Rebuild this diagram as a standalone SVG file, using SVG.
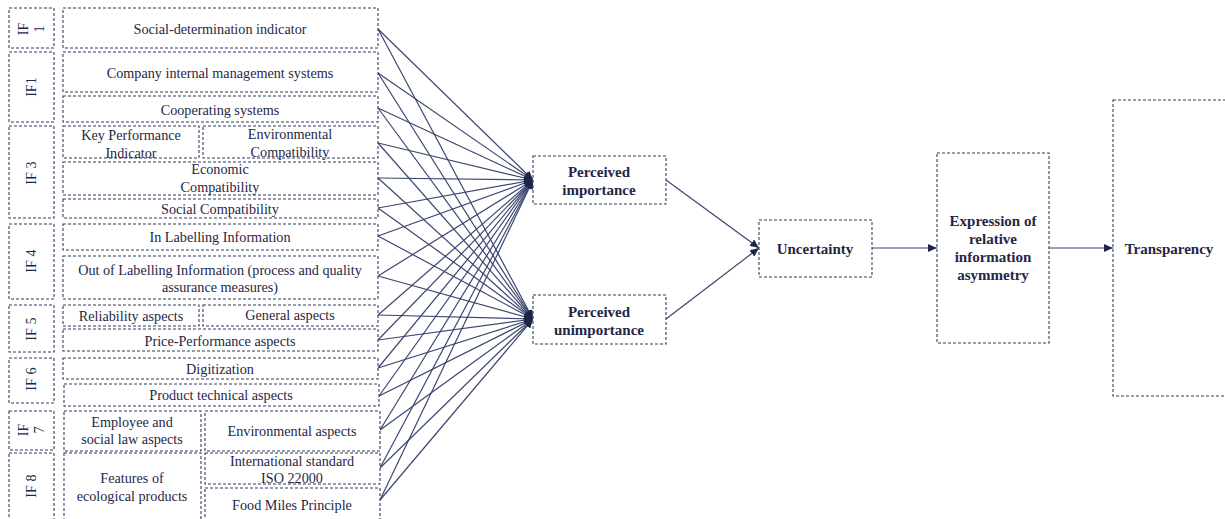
<svg xmlns="http://www.w3.org/2000/svg" width="1225" height="519" viewBox="0 0 1225 519">
<style>
.b{fill:#fff;stroke:#333c5e;stroke-width:1.1;stroke-dasharray:3 2}
.t{font-family:"Liberation Serif","Times New Roman",serif;font-size:14.2px;fill:#1f2747;text-anchor:middle}
.tb{font-family:"Liberation Serif","Times New Roman",serif;font-size:15px;font-weight:bold;fill:#1f2747;text-anchor:middle}
.c{stroke:#3c4670;stroke-width:1.2;fill:none}
</style>
<defs>
<marker id="ah" markerUnits="userSpaceOnUse" markerWidth="9" markerHeight="8" refX="9" refY="4" orient="auto">
<path d="M0,0 L9,4 L0,8 z" fill="#1f2747"/>
</marker>
</defs>
<g id="connectors">
<g class="c" marker-end="url(#ah)">
<line x1="378" y1="29" x2="533" y2="180"/><line x1="378" y1="29" x2="533" y2="319"/>
<line x1="378" y1="73" x2="533" y2="180"/><line x1="378" y1="73" x2="533" y2="319"/>
<line x1="378" y1="108" x2="533" y2="180"/><line x1="378" y1="108" x2="533" y2="319"/>
<line x1="378" y1="143" x2="533" y2="180"/><line x1="378" y1="143" x2="533" y2="319"/>
<line x1="378" y1="178" x2="533" y2="180"/><line x1="378" y1="178" x2="533" y2="319"/>
<line x1="378" y1="208" x2="533" y2="180"/><line x1="378" y1="208" x2="533" y2="319"/>
<line x1="378" y1="236" x2="533" y2="180"/><line x1="378" y1="236" x2="533" y2="319"/>
<line x1="378" y1="276" x2="533" y2="180"/><line x1="378" y1="276" x2="533" y2="319"/>
<line x1="378" y1="315" x2="533" y2="180"/><line x1="378" y1="315" x2="533" y2="319"/>
<line x1="378" y1="340" x2="533" y2="180"/><line x1="378" y1="340" x2="533" y2="319"/>
<line x1="378" y1="368" x2="533" y2="180"/><line x1="378" y1="368" x2="533" y2="319"/>
<line x1="379" y1="396" x2="533" y2="180"/><line x1="379" y1="396" x2="533" y2="319"/>
<line x1="380" y1="430" x2="533" y2="180"/><line x1="380" y1="430" x2="533" y2="319"/>
<line x1="380" y1="468" x2="533" y2="180"/><line x1="380" y1="468" x2="533" y2="319"/>
<line x1="380" y1="500" x2="533" y2="180"/><line x1="380" y1="500" x2="533" y2="319"/>
<line x1="666" y1="180" x2="759" y2="248"/>
<line x1="666" y1="319" x2="759" y2="248"/>
<line x1="872" y1="248" x2="937" y2="248"/>
<line x1="1049" y1="248" x2="1113" y2="248"/>
</g>
</g>
<g id="if1a"><rect class="b" x="9" y="8" width="45" height="40"/><text class="t" transform="translate(31,29) rotate(-90)"><tspan x="0" y="-3">IF</tspan><tspan x="0" y="13">1</tspan></text></g>
<g id="n1"><rect class="b" x="63" y="8" width="315" height="40"/><text class="t" x="220" y="34">Social-determination indicator</text></g>
<g id="if1b"><rect class="b" x="9" y="52" width="45" height="70"/><text class="t" transform="translate(31,87) rotate(-90)" y="5">IF1</text></g>
<g id="n2"><rect class="b" x="63" y="52" width="315" height="40"/><text class="t" x="220" y="78">Company internal management systems</text></g>
<g id="n3"><rect class="b" x="63" y="96" width="315" height="26"/><text class="t" x="220" y="115">Cooperating systems</text></g>
<g id="if3"><rect class="b" x="9" y="126" width="45" height="92"/><text class="t" transform="translate(31,173) rotate(-90)" y="5">IF 3</text></g>
<g id="n4"><rect class="b" x="63" y="126" width="136" height="32"/><text class="t" x="131" y="140">Key Performance</text><text class="t" x="131" y="158">Indicator</text></g>
<g id="n5"><rect class="b" x="203" y="126" width="175" height="32"/><text class="t" x="290" y="139">Environmental</text><text class="t" x="290" y="157">Compatibility</text></g>
<g id="n6"><rect class="b" x="63" y="162" width="315" height="33"/><text class="t" x="220" y="174">Economic</text><text class="t" x="220" y="192">Compatibility</text></g>
<g id="n7"><rect class="b" x="63" y="199" width="315" height="19"/><text class="t" x="220" y="214">Social Compatibility</text></g>
<g id="if4"><rect class="b" x="9" y="224" width="45" height="75"/><text class="t" transform="translate(31,261) rotate(-90)" y="5">IF 4</text></g>
<g id="n8"><rect class="b" x="63" y="224" width="315" height="26"/><text class="t" x="220" y="242">In Labelling Information</text></g>
<g id="n9"><rect class="b" x="63" y="256" width="315" height="43"/><text class="t" x="220" y="275">Out of Labelling Information (process and quality</text><text class="t" x="220" y="292">assurance measures)</text></g>
<g id="if5"><rect class="b" x="9" y="305" width="45" height="47"/><text class="t" transform="translate(31,329) rotate(-90)" y="5">IF 5</text></g>
<g id="n10"><rect class="b" x="63" y="305" width="136" height="21"/><text class="t" x="131" y="321">Reliability aspects</text></g>
<g id="n11"><rect class="b" x="203" y="305" width="175" height="21"/><text class="t" x="290" y="320">General aspects</text></g>
<g id="n12"><rect class="b" x="63" y="329" width="315" height="22"/><text class="t" x="220" y="346">Price-Performance aspects</text></g>
<g id="if6"><rect class="b" x="9" y="358" width="45" height="45"/><text class="t" transform="translate(31,379) rotate(-90)" y="5">IF 6</text></g>
<g id="n13"><rect class="b" x="63" y="358" width="315" height="21"/><text class="t" x="220" y="374">Digitization</text></g>
<g id="n14"><rect class="b" x="64" y="384" width="315" height="22"/><text class="t" x="221" y="400">Product technical aspects</text></g>
<g id="if7"><rect class="b" x="9" y="411" width="45" height="39"/><text class="t" transform="translate(31,430) rotate(-90)"><tspan x="0" y="-3">IF</tspan><tspan x="0" y="13">7</tspan></text></g>
<g id="n15"><rect class="b" x="64" y="411" width="137" height="40"/><text class="t" x="132" y="427">Employee and</text><text class="t" x="132" y="444">social law aspects</text></g>
<g id="n16"><rect class="b" x="205" y="411" width="175" height="40"/><text class="t" x="292" y="436">Environmental aspects</text></g>
<g id="if8"><rect class="b" x="9" y="453" width="45" height="72"/><text class="t" transform="translate(31,486) rotate(-90)" y="5">IF 8</text></g>
<g id="n17"><rect class="b" x="64" y="453" width="137" height="72"/><text class="t" x="132" y="483">Features of</text><text class="t" x="132" y="501">ecological products</text></g>
<g id="n18"><rect class="b" x="205" y="453" width="175" height="31"/><text class="t" x="292" y="466">International standard</text><text class="t" x="292" y="483">ISO 22000</text></g>
<g id="n19"><rect class="b" x="205" y="488" width="175" height="37"/><text class="t" x="292" y="510">Food Miles Principle</text></g>
<g id="pi"><rect class="b" x="533" y="156" width="133" height="48"/><text class="tb" x="599" y="177">Perceived</text><text class="tb" x="599" y="194.5">importance</text></g>
<g id="pu"><rect class="b" x="533" y="295" width="133" height="49"/><text class="tb" x="599" y="317">Perceived</text><text class="tb" x="599" y="334.5">unimportance</text></g>
<g id="unc"><rect class="b" x="759" y="220" width="113" height="57"/><text class="tb" x="815" y="253.5">Uncertainty</text></g>
<g id="exp"><rect class="b" x="937" y="153" width="112" height="190"/><text class="tb" x="993" y="226">Expression of</text><text class="tb" x="993" y="244">relative</text><text class="tb" x="993" y="262">information</text><text class="tb" x="993" y="280">asymmetry</text></g>
<g id="tra"><rect class="b" x="1113" y="100" width="120" height="296"/><text class="tb" x="1169" y="253.5">Transparency</text></g>
</svg>
